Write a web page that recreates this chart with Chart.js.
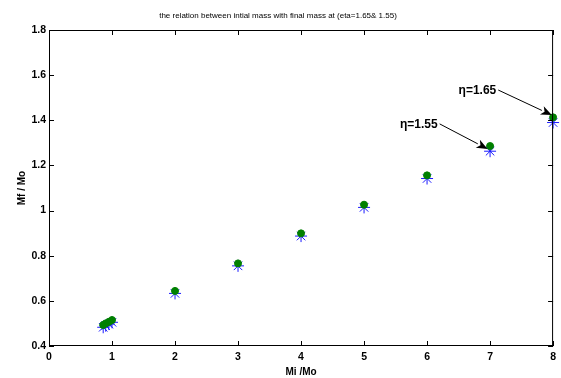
<!DOCTYPE html>
<html>
<head>
<meta charset="utf-8">
<script src="https://cdn.jsdelivr.net/npm/chart.js@4/dist/chart.umd.min.js"></script>
<style>
  html, body { margin: 0; padding: 0; background: #fff; }
  #wrap { width: 561px; height: 378px; }
</style>
</head>
<body>
<div id="wrap"><canvas id="chart"></canvas></div>
<script>
// Données (Mi/Mo en abscisse, Mf/Mo en ordonnée)
const miValues = [0.86, 0.9, 0.95, 1.0, 2, 3, 4, 5, 6, 7, 8];
const mfEta165 = [0.493, 0.500, 0.507, 0.515, 0.644, 0.766, 0.899, 1.026, 1.156, 1.286, 1.413];
const mfEta155 = [0.483, 0.490, 0.497, 0.505, 0.633, 0.755, 0.887, 1.014, 1.142, 1.263, 1.390];
const xTicks = [0, 1, 2, 3, 4, 5, 6, 7, 8];
const yTicks = [0.4, 0.6, 0.8, 1, 1.2, 1.4, 1.6, 1.8];

// Flèches d'annotation (coordonnées en unités des axes)
const notes = [
    { text: 'η=1.65', from: [7.13, 1.534], to: [7.98, 1.423] },
    { text: 'η=1.55', from: [6.2, 1.384], to: [6.96, 1.273] }
];

const toPoints = (ys) => miValues.map((x, i) => ({ x: x, y: ys[i] }));

// Cadre façon MATLAB : boîte, graduations intérieures, flèches
const boxPlugin = {
    id: 'matlabBox',
    afterDraw(chart) {
        const { ctx, chartArea: a, scales: { x, y } } = chart;
        ctx.save();
        ctx.strokeStyle = '#000';
        ctx.lineWidth = 1;
        ctx.strokeRect(a.left + 0.5, a.top + 0.5, a.right - a.left - 1, a.bottom - a.top - 1);

        // 2. Graduations vers l'intérieur
        ctx.beginPath();
        xTicks.forEach(v => {
            const px = Math.round(x.getPixelForValue(v)) + 0.5;
            ctx.moveTo(px, a.bottom); ctx.lineTo(px, a.bottom - 5);
            ctx.moveTo(px, a.top); ctx.lineTo(px, a.top + 5);
        });
        yTicks.forEach(v => {
            const py = Math.round(y.getPixelForValue(v)) + 0.5;
            ctx.moveTo(a.left, py); ctx.lineTo(a.left + 5, py);
            ctx.moveTo(a.right, py); ctx.lineTo(a.right - 5, py);
        });
        ctx.stroke();

        // 3. Annotations
        ctx.fillStyle = '#000';
        ctx.font = 'bold 12px "Liberation Sans", Arial, sans-serif';
        ctx.textAlign = 'right';
        ctx.textBaseline = 'middle';
        notes.forEach(n => {
            const x0 = x.getPixelForValue(n.from[0]), y0 = y.getPixelForValue(n.from[1]);
            const x1 = x.getPixelForValue(n.to[0]), y1 = y.getPixelForValue(n.to[1]);
            ctx.fillText(n.text, x0 - 2, y0 + 1);
            const ang = Math.atan2(y1 - y0, x1 - x0);
            const len = 11, half = 4.5;
            const bx = x1 - len * Math.cos(ang), by = y1 - len * Math.sin(ang);
            ctx.beginPath();
            ctx.moveTo(x0, y0); ctx.lineTo(bx, by);
            ctx.stroke();
            ctx.beginPath();
            ctx.moveTo(x1, y1);
            ctx.lineTo(bx + half * Math.sin(ang), by - half * Math.cos(ang));
            ctx.lineTo(bx + 3 * Math.cos(ang), by + 3 * Math.sin(ang));
            ctx.lineTo(bx - half * Math.sin(ang), by + half * Math.cos(ang));
            ctx.closePath();
            ctx.fill();
        });
        ctx.restore();
    }
};

const tickFont = { family: '"Liberation Sans", Arial, sans-serif', size: 10.5, weight: 'bold' };

new Chart(document.getElementById('chart'), {
    type: 'scatter',
    data: {
        datasets: [
            {
                label: 'eta=1.65',
                data: toPoints(mfEta165),
                pointStyle: 'circle',
                pointRadius: 3.5,
                backgroundColor: '#008000',
                borderColor: '#008000',
                borderWidth: 1,
                clip: false
            },
            {
                label: 'eta=1.55',
                data: toPoints(mfEta155),
                pointStyle: 'star',
                pointRadius: 6,
                borderColor: '#1a1aff',
                backgroundColor: '#1a1aff',
                borderWidth: 1,
                clip: false
            }
        ]
    },
    options: {
        responsive: true,
        maintainAspectRatio: false,
        animation: false,
        layout: { padding: { left: 0, right: 5, top: 0, bottom: 0 } },
        plugins: {
            legend: { display: false },
            tooltip: { enabled: false },
            title: {
                display: true,
                text: 'the relation between intial mass with final mass at (eta=1.65& 1.55)',
                color: '#000',
                font: { family: '"Liberation Sans", Arial, sans-serif', size: 8, weight: 'normal', lineHeight: 1.2 },
                padding: { top: 11, bottom: 9.4 }
            }
        },
        scales: {
            x: {
                type: 'linear',
                min: 0,
                max: 8,
                afterFit: (s) => { s.height = 32; },
                afterBuildTicks: (s) => { s.ticks = xTicks.map(v => ({ value: v })); },
                grid: { display: false, drawTicks: false },
                border: { display: false },
                ticks: { color: '#000', font: tickFont, padding: 5, maxRotation: 0, autoSkip: false },
                title: {
                    display: true,
                    text: 'Mi /Mo',
                    color: '#000',
                    font: { family: '"Liberation Sans", Arial, sans-serif', size: 10, weight: 'bold' },
                    padding: { top: 0, bottom: 0 }
                }
            },
            y: {
                type: 'linear',
                min: 0.4,
                max: 1.8,
                afterFit: (s) => { s.width = 49; },
                afterBuildTicks: (s) => { s.ticks = yTicks.map(v => ({ value: v })); },
                grid: { display: false, drawTicks: false },
                border: { display: false },
                ticks: {
                    color: '#000',
                    font: tickFont,
                    padding: 3,
                    autoSkip: false,
                    callback: (v) => String(+Number(v).toFixed(1))
                },
                title: {
                    display: true,
                    text: 'Mf / Mo',
                    color: '#000',
                    font: { family: '"Liberation Sans", Arial, sans-serif', size: 10, weight: 'bold' },
                    padding: { top: 16, bottom: 0 }
                }
            }
        }
    },
    plugins: [boxPlugin]
});
</script>
</body>
</html>
